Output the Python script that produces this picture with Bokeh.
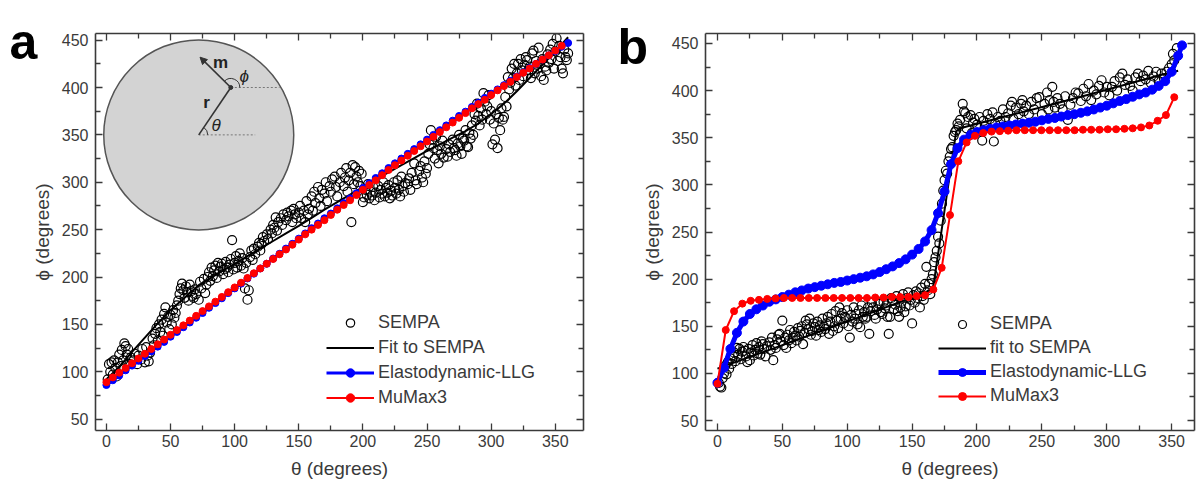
import math
from bokeh.plotting import figure
from bokeh.models import (Range1d, LinearAxis, Legend, LegendItem, Label, Arrow,
                          NormalHead, FixedTicker)
from bokeh.layouts import row
from bokeh.embed import file_html
from bokeh.resources import INLINE
from bokeh.core.properties import value

FONT = "Liberation Sans"

# ---------------- Panel a data ----------------
theta_a_sempa = [
    1, 2, 3, 4, 5, 6, 7, 8, 9,
    10, 11, 12, 13, 14, 15, 16, 17, 18, 19,
    21, 22, 24, 25, 27, 28, 30, 31, 32, 33, 34,
    36, 37, 38, 39, 40, 41, 42, 43, 44, 45, 46, 47, 48, 49,
    50, 51, 52, 53, 54, 55, 56, 57, 58, 59, 60,
    61, 62, 63, 64, 65, 66, 67, 68, 69, 70, 72, 73, 74, 76, 77, 78, 79,
    80, 81, 82, 83, 84, 85, 86, 87, 88, 89, 90, 91, 92, 93, 94, 95, 96, 97, 98, 99, 100,
    101, 102, 103, 104, 105, 106, 107, 108, 109, 110, 111, 112, 113, 114, 115, 116, 118, 119, 120,
    121, 122, 123, 125, 126, 128, 129, 130, 131, 132, 133, 134, 136, 137, 138, 140, 141, 142, 144, 145, 146, 147, 148, 150,
    151, 152, 154, 155, 156, 157, 158, 160, 161, 162, 163, 165, 166, 167, 168, 170, 171, 172, 174, 175, 176, 178, 179, 180,
    182, 183, 185, 186, 187, 188, 189, 190, 191, 192, 193, 194, 195, 196, 197, 198, 199, 200,
    201, 202, 203, 204, 205, 206, 207, 208, 209, 210,
    212, 213, 214, 215, 216, 217, 218, 219, 220, 221, 222, 223, 224, 225, 226, 227, 228, 229, 230, 231, 232, 233,
    235, 236, 237, 238, 240, 241, 242, 244, 245, 246, 247, 248, 249, 250,
    251, 252, 253, 254, 255, 256, 257, 258, 259, 260, 261, 262, 263,
    265, 266, 267, 268,
    270, 271, 272, 273, 274, 275, 276, 277, 278, 279, 280, 281, 282, 283, 284, 285, 286, 287, 288, 289,
    290, 291, 292, 293, 294, 295, 296, 297, 298, 299, 300, 301, 302, 303, 304, 305, 306, 307, 308, 309,
    310, 311, 312, 313, 314, 315, 316, 317, 318, 319, 320,
    321, 322, 323, 324, 325, 326, 327, 328, 329, 330, 331, 332, 333, 334, 335, 336, 337, 338, 339, 340,
    341, 342, 343, 344, 345, 346, 347, 348, 349, 350, 351, 352, 353, 354, 355, 356, 357, 358, 359, 360,
]
phi_a_sempa = [
    92, 108, 100, 110, 97, 112, 104, 95, 110,
    118, 106, 123, 112, 130, 127, 118, 124, 108, 115,
    112, 119, 108, 117, 113, 124, 110, 126, 117, 111, 120,
    135, 128, 140, 146, 133, 150, 142, 155, 138, 161, 168, 152, 158, 145,
    160, 150, 165, 157, 162, 170, 175, 182, 188, 193, 186,
    178, 190, 184, 175, 192, 185, 180, 178, 187, 182, 176, 195, 188, 198, 183, 192, 200,
    205, 196, 210, 201, 207, 212, 199, 215, 206, 211, 214, 203, 208, 216, 210, 205, 213, 219, 239, 208, 215,
    222, 210, 217, 225, 212, 220, 209, 188, 215, 176, 186, 221, 228, 218, 230, 224, 232, 236, 228,
    235, 242, 238, 245, 240, 250, 246, 255, 252, 263, 249, 258, 262, 255, 266, 260, 268, 264, 270, 258, 272, 266, 262, 268,
    275, 262, 270, 258, 280, 266, 272, 285, 270, 290, 278, 295, 283, 275, 292, 288, 300, 280, 296, 290, 303, 306, 295, 285,
    300, 310, 296, 305, 315, 290, 302, 310, 258, 318, 298, 316, 306, 300, 312, 296, 309, 279,
    284, 292, 287, 298, 283, 290, 286, 295, 281, 289,
    296, 284, 292, 288, 300, 285, 294, 289, 297, 283, 291, 286, 300, 294, 288, 302, 292, 285, 306, 296, 290, 299,
    298, 304, 292, 310, 320, 302, 298, 312, 317, 305, 300, 322, 309, 315,
    330, 340, 355, 345, 336, 325, 348, 334, 320, 338, 330, 344, 326,
    335, 327, 340, 332,
    345, 336, 334, 328, 341, 350, 338, 330, 346, 344, 355, 338, 337, 352, 346, 360, 350, 372, 365, 383,
    370, 360, 378, 366, 394, 385, 372, 380, 392, 366, 375, 340, 362, 345, 372, 336, 368, 355, 378, 366,
    369, 390, 380, 411, 398, 405, 420, 410, 425, 402, 415,
    425, 408, 430, 418, 412, 424, 432, 429, 418, 422, 410, 436, 439, 415, 428, 420, 442, 425, 412, 430,
    408, 422, 418, 435, 426, 440, 430, 446, 420, 438, 452, 428, 444, 432, 420, 415, 440, 432, 429, 436,
]

theta_a_fit = [0, 10, 20, 30, 40, 50, 60, 70, 80, 90, 100, 110, 120, 130, 140, 150, 160, 170, 180,
               190, 200, 210, 220, 230, 240, 250, 260, 270, 280, 290, 300, 310, 320, 330, 340, 350, 360]
phi_a_fit = [92, 105, 121, 136, 151, 165, 177, 189, 198, 206, 214, 222, 230, 238, 246, 254, 262.5, 271, 279,
             287, 295, 303, 310.5, 318, 325.5, 333, 340, 347, 354, 362, 372, 383, 396, 410, 424, 438, 453]

theta_a_llg = [0, 5, 10, 15, 20, 25, 30, 35, 40, 45, 50, 55, 60, 65, 70, 75, 80, 85, 90, 95,
               100, 105, 110, 115, 120, 125, 130, 135, 140, 145, 150, 155, 160, 165, 170, 175,
               180, 185, 190, 195, 200, 205, 210, 215, 220, 225, 230, 235, 240, 245, 250, 255,
               260, 265, 270, 275, 280, 285, 290, 295, 300, 305, 310, 315, 320, 325, 330, 335,
               340, 345, 350, 355, 360]
phi_a_llg = [86, 91, 96, 101.5, 106.5, 111.5, 116.5, 121.5, 126.5, 131.5, 137, 142, 147, 152, 157, 162,
             167.5, 172.5, 177.5, 183, 188, 193, 198.5, 203.5, 209, 214, 219.5, 224.5, 230, 235,
             240.5, 246, 251.5, 256.5, 262, 267, 272.5, 278, 283, 288.5, 294, 299, 304.5, 309.5,
             315, 320, 325, 330, 335, 340, 345, 350, 355, 360, 365, 370, 374.5, 379.5, 384, 389,
             393.5, 398, 402.5, 407, 411.5, 416, 420.5, 425, 429.5, 434, 438.5, 443, 447]

theta_a_mumax = [0, 5, 10, 15, 20, 25, 30, 35, 40, 45, 50, 55, 60, 65, 70, 75, 80, 85, 90, 95,
                 100, 105, 110, 115, 120, 125, 130, 135, 140, 145, 150, 155, 160, 165, 170, 175,
                 180, 185, 190, 195, 200, 205, 210, 215, 220, 225, 230, 235, 240, 245, 250, 255,
                 260, 265, 270, 275, 280, 285, 290, 295, 300, 305, 310, 315, 320, 325, 330, 335,
                 340, 345, 350, 355]
phi_a_mumax = [89, 94, 99, 104, 109, 114, 119, 124, 129, 134, 139, 144, 149, 154, 159, 164, 169, 174,
               179, 184, 189, 194, 199, 204, 209, 214, 219, 224, 229, 234, 239.5, 245, 250, 255, 260,
               265.5, 271, 276, 281, 286.5, 292, 297, 302, 307.5, 313, 318, 323, 328, 333, 338, 343,
               348, 353, 358, 363, 368, 373, 378, 382.5, 387, 392, 397, 401.5, 406, 411, 415.5, 420,
               425, 429.5, 434, 439, 444]

# ---------------- Panel b data ----------------
theta_b_sempa = [
    1, 2, 3, 4, 5, 6, 7, 8, 9, 10, 11, 12, 13, 14, 15, 16, 17, 18, 19, 20,
    21, 22, 23, 24, 25, 26, 27, 28, 29, 30, 31, 32, 33, 34, 35, 36, 37, 38,
    40, 41, 42, 43, 44, 45, 46, 47, 48, 49, 50,
    51, 52, 53, 54, 55, 56, 57, 58, 59, 60, 61, 62, 63, 64, 65, 66, 67, 68, 69, 70,
    71, 72, 73, 74, 75, 76, 77, 78, 79, 80, 81, 82, 83, 84, 85, 86, 87, 88, 89, 90,
    91, 92, 93, 94, 95, 96, 97, 98, 99, 100,
    101, 102, 103, 104, 105, 106, 107, 108, 109, 110, 111, 112, 113, 114, 115, 116, 117, 118, 119, 120,
    121, 122, 123, 124, 125, 126, 127, 128, 129, 130, 131, 132, 133, 134, 135, 136, 137, 138, 139, 140,
    141, 142, 143, 144, 145, 146, 147, 148, 149, 150, 151, 152, 153, 154, 155, 156, 157, 158, 159, 160,
    161, 162, 163, 164, 165,
    166, 167, 168, 169, 170, 171, 172, 173, 174, 175, 176, 177, 178, 179, 180, 181, 182, 183, 184, 185,
    186, 187, 189, 190,
    191, 192, 193, 195, 196, 197, 198, 200, 202, 204, 205, 206, 208, 210, 212, 213, 214, 216, 218, 220,
    222, 224, 226, 227, 228, 230, 232, 234, 235, 236, 238, 240, 242, 244, 246, 248, 250, 252, 254, 255,
    256, 258, 259, 260,
    262, 264, 266, 268, 270, 272, 274, 276, 278, 280, 282, 284, 286, 288, 290, 292, 294, 296, 298, 300,
    302, 304, 306, 308, 310, 312, 314, 316, 318, 320, 322, 324, 326, 328, 330, 332, 334, 336, 338, 340,
    342, 344, 346, 348, 350, 351, 352, 354,
]
phi_b_sempa = [
    90, 86, 85, 95, 100, 108, 99, 112, 105, 116, 110, 118, 122, 113, 127, 120, 126, 115, 123, 128,
    124, 118, 112, 126, 114, 122, 130, 119, 125, 132, 121, 128, 120, 134, 131, 126, 118, 129,
    133, 125, 138, 114, 130, 127, 136, 141, 142, 134, 156,
    130, 138, 127, 141, 135, 146, 132, 138, 144, 140, 135, 148, 139, 145, 150, 131, 143, 156, 152, 147,
    158, 141, 145, 153, 149, 140, 155, 146, 151, 144, 158, 150, 147, 153, 160, 142, 155, 163, 145, 150,
    166, 156, 148, 170, 158, 164, 153, 160, 159, 167,
    150, 138, 162, 155, 170, 158, 163, 152, 167, 149, 172, 160, 165, 158, 160, 170, 142, 166, 175, 170,
    162, 158, 168, 174, 174, 165, 163, 176, 169, 172, 160, 142, 160, 180, 177, 168, 173, 182, 166, 160,
    170, 176, 184, 165, 171, 180, 186, 172, 178, 153, 183, 175, 187, 180, 185, 170, 191, 182, 178, 195,
    213, 188, 195, 184, 200,
    205, 218, 223, 230, 245, 238, 262, 280, 294, 305, 315, 312, 325, 330, 338, 340, 352, 356, 358, 365,
    362, 369, 386, 378,
    376, 360, 372, 374, 355, 366, 370, 364, 372, 347, 368, 362, 375, 370, 377, 346, 365, 372, 368, 380,
    372, 376, 384, 388, 370, 382, 375, 386, 390, 378, 384, 375, 388, 380, 392, 393, 375, 386, 398, 380,
    390, 404, 388, 382,
    392, 386, 380, 394, 369, 385, 392, 398, 397, 389, 402, 394, 407, 390, 400, 396, 405, 411, 398, 404,
    395, 404, 410, 400, 414, 418, 406, 412, 405, 400, 414, 418, 410, 416, 412, 421, 408, 415, 420, 410,
    418, 413, 420, 424, 428, 439, 432, 445,
]

theta_b_fit = [0, 40, 80, 120, 166, 184, 187, 220, 260, 300, 340, 355]
phi_b_fit = [105, 125, 145, 165, 189, 357, 360, 372, 386, 401, 416, 421]

theta_b_llg = [0, 5, 10, 15, 20, 25, 30, 35, 40, 45, 50, 55, 60, 65, 70, 75, 80, 85, 90, 95,
               100, 105, 110, 115, 120, 125, 130, 135, 140, 145, 150, 155, 160, 165, 170, 175,
               180, 185, 190, 195, 200, 205, 210, 215, 220, 225, 230, 235, 240, 245, 250, 255,
               260, 265, 270, 275, 280, 285, 290, 295, 300, 305, 310, 315, 320, 325, 330, 335,
               340, 345, 350, 355, 358]
phi_b_llg = [90, 106, 126, 143, 155, 163, 168, 172, 176, 178.5, 181, 183.5, 186, 188, 190, 191.5,
             193, 194.5, 196, 197, 198.5, 200, 201.5, 203, 205, 207.5, 210.5, 213.5, 217, 221,
             226, 232, 240, 252, 270, 293, 322, 339, 348, 353, 356, 358, 359.5, 361, 362, 363,
             364, 365, 366, 367, 368.5, 370, 371, 372.5, 374, 375, 376.5, 378, 380, 382, 384,
             386.5, 389, 391, 393.5, 396, 398, 401, 405, 410, 420, 437, 448]

theta_b_mumax = [0, 6.4, 12.8, 19.2, 25.6, 32, 38.4, 44.8, 51.2, 57.6, 64, 70.4, 76.8, 83.2, 89.6,
                 96, 102.4, 108.8, 115.2, 121.6, 128, 134.4, 140.8, 147.2, 153.6, 160, 166.4, 172.8,
                 179.2, 185.6, 192, 198.4, 204.8, 211.2, 217.6, 224, 230.4, 236.8, 243.2, 249.6, 256,
                 262.4, 268.8, 275.2, 281.6, 288, 294.4, 300.8, 307.2, 313.6, 320, 326.4, 332.8,
                 339.2, 345.6, 352]
phi_b_mumax = [89, 146, 166, 174, 177, 178, 179, 179.5, 180, 180, 180, 180, 180, 180, 180, 180, 180,
               180, 180, 180.5, 180.5, 181, 181, 181, 182, 183, 189, 212, 268, 325, 345, 352, 355,
               356.5, 357, 357.5, 358, 358, 358, 358, 358, 358, 358, 358, 358.5, 358.5, 358.5, 359,
               359, 359.5, 360, 361, 363, 368, 374, 393]

# ---------------- inset sketch (panel a) ----------------
inset_centre = [72, 350]
inset_radius_px = 95
inset_r_tip = [97, 400]
inset_m_tip = [73, 432]
inset_dot_end_low = 116
inset_dot_end_high = 135
inset_texts = ["m", "ϕ", "r", "θ"]
inset_text_x = [89, 107.5, 78, 85.5]
inset_text_y = [426, 412, 384, 360]

x_major = [0, 50, 100, 150, 200, 250, 300, 350]
x_minor = [25, 75, 125, 175, 225, 275, 325, 375]
y_major = [50, 100, 150, 200, 250, 300, 350, 400, 450]
y_minor = [75, 125, 175, 225, 275, 325, 375, 425]

AX_COL = "#3a3a3a"
TXT_COL = "#3a3a3a"


def style_axis(ax, show_labels=True):
    ax.major_tick_in = 7
    ax.major_tick_out = 0
    ax.minor_tick_in = 5
    ax.minor_tick_out = 0
    ax.axis_line_color = AX_COL
    ax.axis_line_width = 1.6
    ax.major_tick_line_color = AX_COL
    ax.major_tick_line_width = 1.3
    ax.minor_tick_line_color = AX_COL
    ax.minor_tick_line_width = 1.3
    if show_labels:
        ax.major_label_text_font = FONT
        ax.major_label_text_font_size = "16px"
        ax.major_label_text_color = TXT_COL
        ax.axis_label_text_font = FONT
        ax.axis_label_text_font_size = "19px"
        ax.axis_label_text_font_style = "normal"
        ax.axis_label_text_color = TXT_COL
    else:
        ax.major_label_text_font_size = "1px"
        ax.major_label_text_color = None
        ax.major_label_standoff = 0


def make_fig(width, xr, yr, left, right):
    p = figure(width=width, height=482, x_range=Range1d(*xr), y_range=Range1d(*yr),
               output_backend="svg", toolbar_location=None,
               min_border_left=left, min_border_right=right,
               min_border_top=33, min_border_bottom=52)
    p.grid.visible = False
    p.outline_line_color = None
    p.background_fill_color = "white"
    p.border_fill_color = "white"
    p.xaxis.ticker = FixedTicker(ticks=x_major, minor_ticks=x_minor)
    p.yaxis.ticker = FixedTicker(ticks=y_major, minor_ticks=y_minor)
    style_axis(p.xaxis[0])
    style_axis(p.yaxis[0])
    p.xaxis.axis_label = "θ (degrees)"
    p.yaxis.axis_label = "ϕ (degrees)"
    p.xaxis.major_label_standoff = 4
    p.yaxis.major_label_standoff = 7
    p.xaxis.axis_label_standoff = 8
    p.yaxis.axis_label_standoff = 6
    top = LinearAxis(ticker=FixedTicker(ticks=x_major, minor_ticks=x_minor))
    rgt = LinearAxis(ticker=FixedTicker(ticks=y_major, minor_ticks=y_minor))
    style_axis(top, False)
    style_axis(rgt, False)
    p.add_layout(top, "above")
    p.add_layout(rgt, "right")
    return p


def add_series(p, th_s, ph_s, th_f, ph_f, th_l, ph_l, th_m, ph_m, llg_w, llg_size):
    sc = p.scatter(th_s, ph_s, marker="circle", size=9, fill_color=None,
                   line_color="black", line_width=1.2)
    fl = p.line(th_f, ph_f, line_color="black", line_width=2)
    bl = p.line(th_l, ph_l, line_color="#0000ff", line_width=llg_w)
    bm = p.scatter(th_l, ph_l, marker="circle", size=llg_size, fill_color="#0000ff",
                   line_color="#0000ff")
    rl = p.line(th_m, ph_m, line_color="#ff0000", line_width=2)
    rm = p.scatter(th_m, ph_m, marker="circle", size=7, fill_color="#ff0000",
                   line_color="#ff0000")
    return sc, fl, (bl, bm), (rl, rm)


def add_legend(p, rs, labels, loc, gh, sp):
    sc, fl, bb, rr = rs
    items = [LegendItem(label=labels[0], renderers=[sc]),
             LegendItem(label=labels[1], renderers=[fl]),
             LegendItem(label=labels[2], renderers=list(bb)),
             LegendItem(label=labels[3], renderers=list(rr))]
    leg = Legend(items=items, location=loc, border_line_color=None,
                 background_fill_alpha=0, padding=0, margin=0, spacing=sp,
                 glyph_width=48, glyph_height=gh, label_height=gh,
                 label_standoff=4, label_text_font=FONT, label_text_font_size="18px",
                 label_text_color=TXT_COL)
    p.add_layout(leg)


def add_panel_letter(p, letter, cx, cy):
    p.add_layout(Label(x=cx, y=cy, x_units="canvas", y_units="canvas", text=letter,
                       text_font=FONT, text_font_size="50px", text_font_style="bold",
                       text_color="black", text_baseline="alphabetic"), "left")


# ---------------- Panel a ----------------
pa = make_fig(600, (-8.5, 372), (38, 457), 92, 17)

pa.circle(x=[inset_centre[0]], y=[inset_centre[1]], radius=inset_radius_px, radius_units="screen",
          fill_color="#d3d3d3", line_color="#555555", line_width=1.5)
pa.line([inset_centre[0], inset_dot_end_low], [inset_centre[1], inset_centre[1]],
        line_color="#777777", line_dash="2 2", line_width=1)
pa.line([inset_r_tip[0], inset_dot_end_high], [inset_r_tip[1], inset_r_tip[1]],
        line_color="#777777", line_dash="2 2", line_width=1)
pa.line([inset_centre[0], inset_r_tip[0]], [inset_centre[1], inset_r_tip[1]],
        line_color="#333333", line_width=1.6)
pa.add_layout(Arrow(end=NormalHead(size=7, fill_color="#333333", line_color="#333333"),
                    x_start=inset_r_tip[0], y_start=inset_r_tip[1],
                    x_end=inset_m_tip[0], y_end=inset_m_tip[1],
                    line_color="#333333", line_width=1.6))
pa.scatter([inset_r_tip[0]], [inset_r_tip[1]], size=4, color="#333333")
pa.arc(x=[inset_centre[0]], y=[inset_centre[1]], radius=9, radius_units="screen",
       start_angle=0, end_angle=math.radians(55), line_color="#333333", line_width=1)
pa.arc(x=[inset_r_tip[0]], y=[inset_r_tip[1]], radius=9, radius_units="screen",
       start_angle=0, end_angle=math.radians(134), line_color="#333333", line_width=1)
pa.text(x=inset_text_x[0:1] + inset_text_x[2:3], y=inset_text_y[0:1] + inset_text_y[2:3],
        text=inset_texts[0:1] + inset_texts[2:3], text_font=value(FONT), text_font_size="17px",
        text_font_style="bold", text_align="center", text_baseline="middle", text_color="#222222")
pa.text(x=inset_text_x[1:2] + inset_text_x[3:4], y=inset_text_y[1:2] + inset_text_y[3:4],
        text=inset_texts[1:2] + inset_texts[3:4], text_font=value(FONT), text_font_size="17px",
        text_font_style="italic", text_align="center", text_baseline="middle", text_color="#222222")

rs_a = add_series(pa, theta_a_sempa, phi_a_sempa, theta_a_fit, phi_a_fit,
                  theta_a_llg, phi_a_llg, theta_a_mumax, phi_a_mumax, 3, 7)
add_legend(pa, rs_a, ["SEMPA", "Fit to SEMPA", "Elastodynamic-LLG", "MuMax3"], (231, 22), 21, 4)
add_panel_letter(pa, "a", 9, 41)

# ---------------- Panel b ----------------
pb = make_fig(596, (-9.2, 367.6), (39.4, 460.6), 105, 2)
rs_b = add_series(pb, theta_b_sempa, phi_b_sempa, theta_b_fit, phi_b_fit,
                  theta_b_llg, phi_b_llg, theta_b_mumax, phi_b_mumax, 5, 9)
add_legend(pb, rs_b, ["SEMPA", "fit to SEMPA", "Elastodynamic-LLG", "MuMax3"], (233, 24), 20, 3)
add_panel_letter(pb, "b", 17, 46)

layout = row(pa, pb)
open("out.html", "w").write(file_html(layout, INLINE))
